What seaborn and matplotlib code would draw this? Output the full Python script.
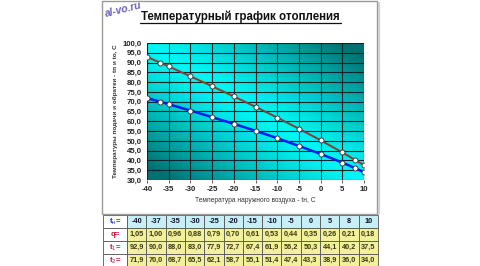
import numpy as np
import pandas as pd
import matplotlib
matplotlib.use("Agg")
import matplotlib.pyplot as plt
from matplotlib.lines import Line2D
from matplotlib.patches import Rectangle
import seaborn as sns

# ---- data ----
t_outdoor = [-40, -37, -35, -30, -25, -20, -15, -10, -5, 0, 5, 8, 10]
q_load = [1.05, 1.00, 0.96, 0.88, 0.79, 0.70, 0.61, 0.53, 0.44, 0.35, 0.26, 0.21, 0.18]
t_supply = [92.9, 90.0, 88.0, 83.0, 77.9, 72.7, 67.4, 61.9, 56.2, 50.3, 44.1, 40.2, 37.5]
t_return = [71.9, 70.0, 68.7, 65.5, 62.1, 58.7, 55.1, 51.4, 47.4, 43.3, 38.9, 36.0, 34.0]
x_ticks = [-40, -35, -30, -25, -20, -15, -10, -5, 0, 5, 10]
y_ticks = [30, 35, 40, 45, 50, 55, 60, 65, 70, 75, 80, 85, 90, 95, 100]
row_labels = [r"t$_{\mathrm{н}}$=", "q=", r"t$_{\mathrm{1}}$=", r"t$_{\mathrm{2}}$="]

sns.set_theme(style="white")
plt.rcParams["font.family"] = ["Liberation Sans", "DejaVu Sans"]

W, H = 480, 266
fig = plt.figure(figsize=(W / 100, H / 100), dpi=100)
fig.patch.set_facecolor("white")

def fx(px):
    return px / W

def fy(py):
    return 1 - py / H

# panel frame
fig.add_artist(Rectangle((fx(102), fy(214)), fx(377) - fx(102), fy(1) - fy(214),
                         transform=fig.transFigure, fill=False, edgecolor="#9a9a9a", lw=1.0))
fig.add_artist(Line2D([fx(379), fx(379)], [fy(3), fy(214)], transform=fig.transFigure,
                      color="#d0d0d0", lw=1.5))

# title
fig.text(0.5, fy(17), "Температурный график отопления", ha="center", va="center",
         fontsize=8.3, fontweight="bold", color="#111111")
fig.add_artist(Line2D([fx(140), fx(341)], [fy(22.5), fy(22.5)], transform=fig.transFigure,
                      color="#111111", lw=0.9))
# watermark
fig.text(fx(104), fy(10), "al-vo.ru", ha="left", va="center", rotation=14,
         fontsize=7.5, fontstyle="italic", fontweight="bold", color="#5a4fb0", alpha=0.9)

# main axes
ax = fig.add_axes([fx(147), fy(180), fx(364) - fx(147), fy(43) - fy(180)])
ax.set_xlim(-40, 10)
ax.set_ylim(30, 100)

# diagonal gradient background
n = 200
u = np.linspace(0, 1, n)[None, :]
w = np.linspace(0, 1, n)[:, None]
d = np.abs(u - w)
d = np.clip(d / 0.9, 0, 1) ** 1.25
bright = np.array([0.0, 0.97, 0.97])
dark = np.array([0.0, 0.44, 0.44])
img = bright[None, None, :] * (1 - d[..., None]) + dark[None, None, :] * d[..., None]
ax.imshow(img, extent=(-40, 10, 30, 100), aspect="auto", origin="upper", zorder=0)

ax.set_xticks(x_ticks)
ax.set_yticks(y_ticks)
ax.grid(True, color="#0a2626", lw=0.8, zorder=1)
ax.set_axisbelow(False)

df = pd.DataFrame({"t": t_outdoor * 2,
                   "val": t_supply + t_return,
                   "s": ["supply"] * len(t_outdoor) + ["return"] * len(t_outdoor)})
sns.lineplot(data=df, x="t", y="val", hue="s", palette={"supply": "#8a3d33", "return": "#0a1ef0"},
             ax=ax, legend=False, zorder=3, marker="o", markersize=3.6,
             markerfacecolor="white", markeredgecolor="#333333", markeredgewidth=0.6)
for line, lw in zip(ax.get_lines(), [1.4, 1.8]):
    line.set_linewidth(lw)

ax.set_yticklabels([f"{v:.1f}".replace(".", ",") for v in y_ticks],
                   fontsize=5.6, fontweight="bold", color="#222222")
ax.set_xticklabels([str(v) for v in x_ticks], fontsize=5.6, fontweight="bold", color="#222222")
ax.tick_params(axis="both", length=2, width=0.6, pad=2, color="#444444")
ax.tick_params(axis="x", bottom=True)
ax.tick_params(axis="y", left=False)
for sp in ax.spines.values():
    sp.set_visible(False)
ax.set_xlabel("Температура наружного воздуха - tн, С", fontsize=4.8, color="#333333", labelpad=3)
ax.set_ylabel("Температуры подачи и обратки - tп и tо, С", fontsize=4.6, color="#333333",
              fontweight="bold", labelpad=3)

# table
tax = fig.add_axes([fx(103), 0, fx(378) - fx(103), fy(215)])
tax.axis("off")

def fmt(v, dec):
    return f"{v:.{dec}f}".replace(".", ",")

cells = [[str(v) for v in t_outdoor],
         [fmt(v, 2) for v in q_load],
         [fmt(v, 1) for v in t_supply],
         [fmt(v, 1) for v in t_return]]
full = [[row_labels[i]] + cells[i] for i in range(4)]
lab_w = 24 / 275
col_w = [lab_w] + [(1 - lab_w) / 13] * 13
tbl = tax.table(cellText=full, colWidths=col_w, loc="upper left", cellLoc="center",
                bbox=[0, -0.02, 1, 1.02])
tbl.auto_set_font_size(False)
label_colors = ["#1a2ad0", "#d0103a", "#d0103a", "#d0103a"]
for (r, c), cell in tbl.get_celld().items():
    cell.set_edgecolor("#555555")
    cell.set_linewidth(0.6)
    txt = cell.get_text()
    txt.set_fontsize(5.3)
    txt.set_fontweight("bold")
    if c == 0:
        cell.set_facecolor("white")
        txt.set_color(label_colors[r])
        txt.set_fontsize(5.6)
    elif r == 0:
        cell.set_facecolor("#c8eef6")
        txt.set_color("#101030")
    else:
        cell.set_facecolor("#f3f09c")
        txt.set_color("#3a3a10")

fig.savefig("out.png", dpi=100, facecolor="white")
